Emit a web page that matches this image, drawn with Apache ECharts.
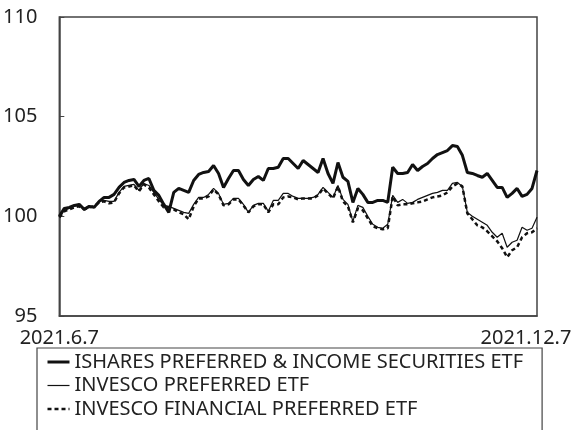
<!DOCTYPE html>
<html>
<head>
<meta charset="utf-8">
<script src="https://cdn.jsdelivr.net/npm/echarts@6/dist/echarts.min.js"></script>
<style>
  html, body { margin: 0; padding: 0; background: #fff; }
  #chart { width: 577px; height: 430px; }
</style>
</head>
<body>
<div id="chart"></div>
<script>
    // tick labels
    const xLabels = ['2021.6.7', '2021.12.7'];
    const yTicks = [95, 100, 105, 110];
    const seriesNames = [
        'ISHARES PREFERRED & INCOME SECURITIES ETF',
        'INVESCO PREFERRED ETF',
        'INVESCO FINANCIAL PREFERRED ETF'
    ];
    // values, evenly spaced from 2021.6.7 to 2021.12.7
    const ishares = [
        100.0, 100.4, 100.45, 100.55, 100.6, 100.35, 100.5, 100.45, 100.75, 100.95,
        100.95, 101.1, 101.45, 101.7, 101.8, 101.85, 101.5, 101.8, 101.9, 101.3,
        101.05, 100.6, 100.2, 101.2, 101.4, 101.3, 101.2, 101.8, 102.1, 102.2,
        102.25, 102.55, 102.15, 101.45, 101.9, 102.3, 102.3, 101.85, 101.55, 101.85,
        102.0, 101.8, 102.4, 102.4, 102.46, 102.9, 102.9, 102.65, 102.4, 102.8,
        102.6, 102.4, 102.2, 102.9, 102.15, 101.65, 102.7, 101.96, 101.75, 100.7,
        101.4, 101.1, 100.7, 100.7, 100.8, 100.8, 100.7, 102.46, 102.15, 102.15,
        102.2, 102.6, 102.3, 102.5, 102.65, 102.9, 103.1, 103.2, 103.3, 103.55,
        103.5, 103.06, 102.2, 102.15, 102.05, 101.96, 102.15, 101.8, 101.45, 101.45,
        100.95, 101.15, 101.4, 101.0, 101.1, 101.4, 102.3
    ];
    const invescoPref = [
        100.0, 100.3, 100.4, 100.5, 100.55, 100.4, 100.5, 100.5, 100.75, 100.8,
        100.75, 100.75, 101.2, 101.5, 101.55, 101.6, 101.3, 101.65, 101.55, 101.2,
        100.85, 100.55, 100.5, 100.4, 100.3, 100.2, 100.15, 100.6, 100.95, 100.95,
        101.1, 101.4, 101.15, 100.6, 100.65, 100.9, 100.9, 100.6, 100.2, 100.55,
        100.65, 100.65, 100.25, 100.8, 100.8, 101.15, 101.15, 101.0, 100.9, 100.9,
        100.9, 100.95, 101.1, 101.45, 101.2, 100.95, 101.55, 100.85, 100.6, 99.75,
        100.55, 100.45, 100.0, 99.6, 99.45, 99.4, 99.6, 101.05, 100.7, 100.85,
        100.65, 100.7, 100.85, 100.95, 101.05, 101.15, 101.2, 101.3, 101.3, 101.65,
        101.7, 101.5, 100.2, 100.0, 99.85, 99.7, 99.55, 99.2, 98.95, 99.15,
        98.45, 98.7, 98.8, 99.45, 99.3, 99.4, 99.95
    ];
    const invescoFin = [
        99.95, 100.25, 100.35, 100.45, 100.5, 100.35, 100.45, 100.5, 100.7, 100.75,
        100.65, 100.7, 101.15, 101.45, 101.5, 101.55, 101.25, 101.6, 101.45, 101.1,
        100.75, 100.45, 100.45, 100.35, 100.2, 100.1, 99.85, 100.5, 100.9, 100.9,
        101.0, 101.35, 101.1, 100.55, 100.6, 100.85, 100.85, 100.55, 100.2, 100.5,
        100.6, 100.6, 100.2, 100.6, 100.6, 100.95, 101.0, 100.95, 100.85, 100.9,
        100.9, 100.9, 101.05, 101.4, 101.15, 100.9, 101.5, 100.75, 100.5, 99.7,
        100.4, 100.3, 99.9, 99.5, 99.4, 99.35, 99.4, 101.0, 100.55, 100.6,
        100.6, 100.65, 100.7, 100.75, 100.85, 100.95, 101.0, 101.05, 101.2, 101.5,
        101.65, 101.5, 100.15, 99.85, 99.55, 99.45, 99.25, 99.0, 98.75, 98.4,
        97.95, 98.3, 98.45, 98.95, 99.15, 99.2, 99.4
    ];

    const lastIdx = ishares.length - 1;
    const toPoints = arr => arr.map((v, i) => [i, v]);
    const font = '"Noto Sans", "DejaVu Sans", sans-serif';
    const lineStyles = [
        { color: '#111', width: 3, type: 'solid' },
        { color: '#111', width: 1.2, type: 'solid' },
        { color: '#111', width: 2.5, type: [4, 3] }
    ];

    const chart = echarts.init(document.getElementById('chart'));
    chart.setOption({
        animation: false,
        backgroundColor: '#fff',
        textStyle: { fontFamily: font, color: '#222' },
        grid: {
            left: 58, right: 40, top: 17, bottom: 114,
            show: true, borderColor: '#444', borderWidth: 1.5,
            containLabel: false
        },
        xAxis: {
            type: 'value',
            min: 0,
            max: lastIdx,
            interval: lastIdx,
            splitLine: { show: false },
            axisTick: { show: false },
            axisLine: { lineStyle: { color: '#444', width: 1.5 } },
            axisLabel: {
                margin: 12,
                fontSize: 20,
                color: '#222',
                fontFamily: font,
                formatter: v => v === 0 ? xLabels[0] : '{r|' + xLabels[1] + '}',
                rich: { r: { fontSize: 20, color: '#222', fontFamily: font, padding: [0, 22, 0, 0] } }
            }
        },
        yAxis: {
            type: 'value',
            min: yTicks[0],
            max: yTicks[yTicks.length - 1],
            interval: 5,
            splitLine: { show: false },
            axisTick: { show: true, inside: true, length: 5, lineStyle: { color: '#444' } },
            axisLine: { show: true, lineStyle: { color: '#444', width: 1.5 } },
            axisLabel: { margin: 22, fontSize: 20, color: '#222', fontFamily: font }
        },
        legend: {
            orient: 'vertical',
            left: 37,
            top: 348,
            height: 200,
            padding: [4, 19, 30, 9],
            borderColor: '#444',
            borderWidth: 1.2,
            itemWidth: 22,
            itemHeight: 14,
            itemGap: 3.5,
            itemStyle: { opacity: 0 },
            data: seriesNames.map((name, i) => ({ name: name, lineStyle: lineStyles[i] })),
            textStyle: { fontSize: 20, color: '#222', fontFamily: font, lineHeight: 20 }
        },
        series: [
            {
                name: seriesNames[0],
                type: 'line',
                symbol: 'none',
                data: toPoints(ishares),
                lineStyle: lineStyles[0],
                itemStyle: { color: '#111' },
                z: 3
            },
            {
                name: seriesNames[1],
                type: 'line',
                symbol: 'none',
                data: toPoints(invescoPref),
                lineStyle: lineStyles[1],
                itemStyle: { color: '#111' },
                z: 2
            },
            {
                name: seriesNames[2],
                type: 'line',
                symbol: 'none',
                data: toPoints(invescoFin),
                lineStyle: lineStyles[2],
                itemStyle: { color: '#111' },
                z: 1
            }
        ]
    });
</script>
</body>
</html>
